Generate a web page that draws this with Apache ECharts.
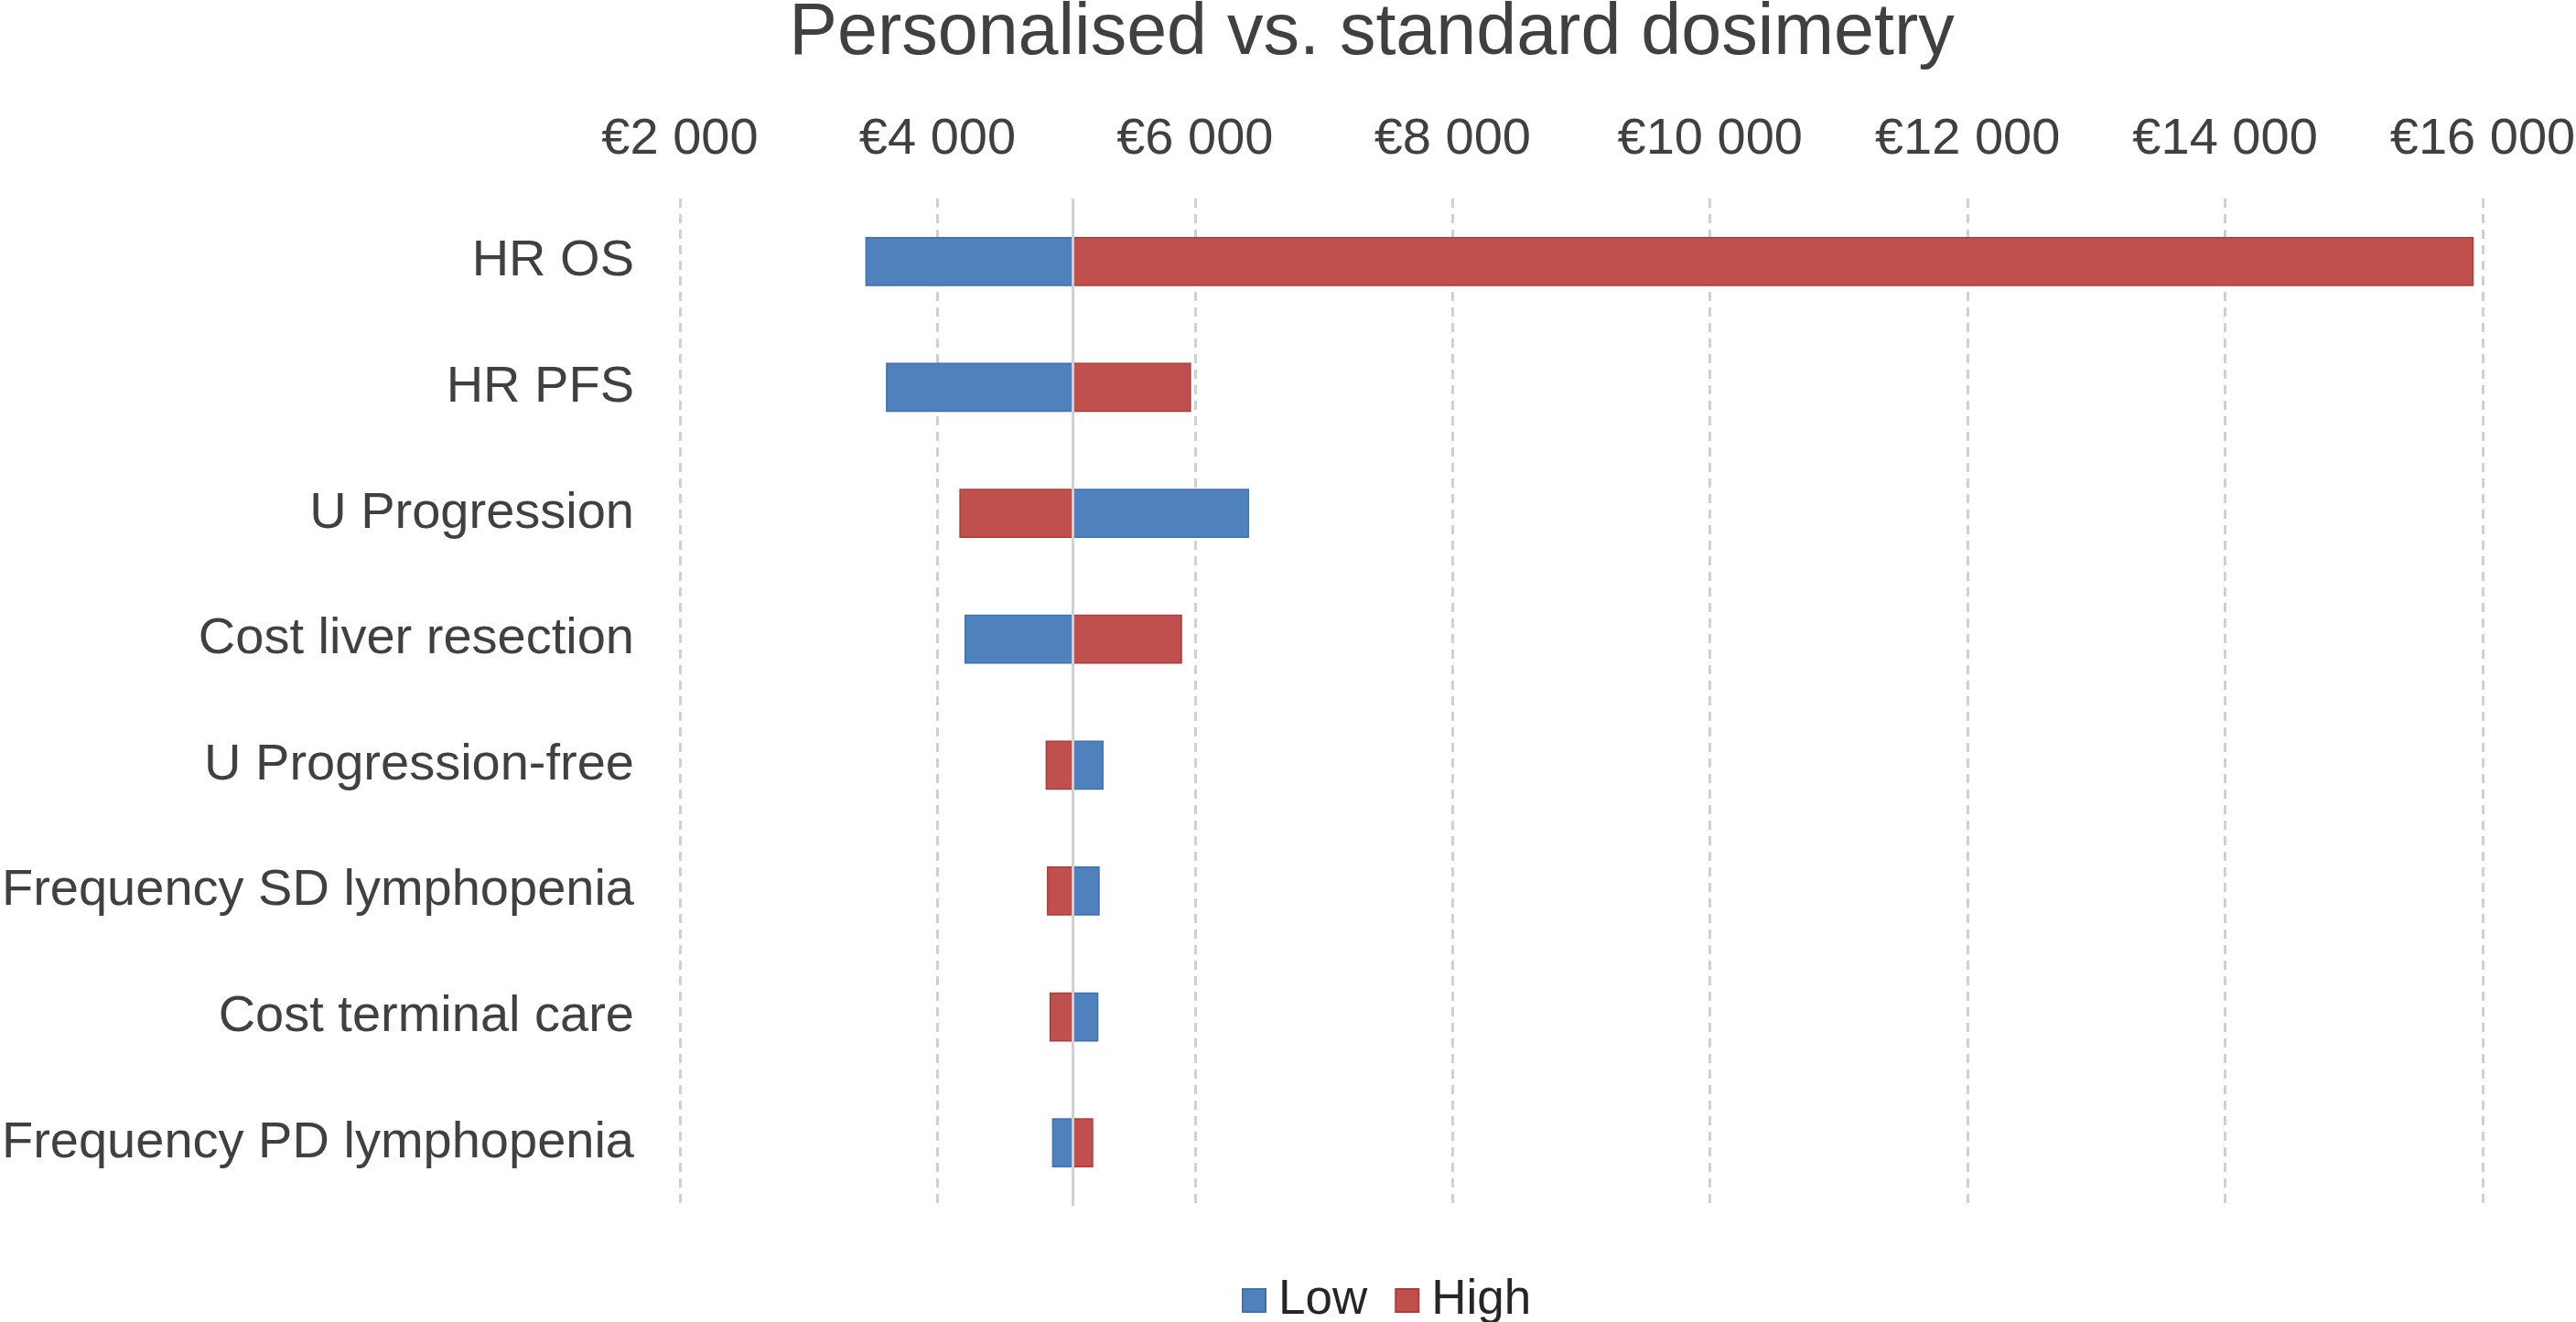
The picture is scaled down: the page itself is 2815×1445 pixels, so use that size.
<!DOCTYPE html>
<html>
<head>
<meta charset="utf-8">
<script src="https://cdn.jsdelivr.net/npm/echarts@6/dist/echarts.min.js"></script>
<style>
html,body{margin:0;padding:0;background:#fff;}
#chart{width:2815px;height:1445px;}
</style>
</head>
<body>
<div id="chart"></div>
<script>
const categories = ['HR OS','HR PFS','U Progression','Cost liver resection','U Progression-free','Frequency SD lymphopenia','Cost terminal care','Frequency PD lymphopenia'];
const baseValue = 5050;
const lowValues  = [3440, 3600, 6420, 4210, 5290, 5260, 5250, 4890];
const highValues = [15930, 5970, 4170, 5900, 4840, 4850, 4870, 5210];
const xTicks = [2000, 4000, 6000, 8000, 10000, 12000, 14000, 16000];

const FONT = '"Liberation Sans", Arial, sans-serif';
const BLUE = '#4F81BD', RED = '#C0504D';

function fmt(v){ return '€' + String(v).replace(/\B(?=(\d{3})+(?!\d))/g, ' '); }

const lowOffset = lowValues.map(v => Math.min(v, baseValue));
const lowLen = lowValues.map(v => Math.abs(v - baseValue));
const highOffset = highValues.map(v => Math.min(v, baseValue));
const highLen = highValues.map(v => Math.abs(v - baseValue));

const chart = echarts.init(document.getElementById('chart'));
chart.setOption({
  animation: false,
  backgroundColor: '#fff',
  textStyle: { fontFamily: FONT },
  title: {
    text: 'Personalised vs. standard dosimetry',
    left: 1499, textAlign: 'center', top: -2, padding: 0,
    textStyle: { fontSize: 79, fontWeight: 'normal', color: '#404040', fontFamily: FONT }
  },
  legend: {
    data: ['Low', 'High'],
    left: 1352, top: 1390,
    itemWidth: 25, itemHeight: 25, itemGap: 30,
    icon: 'rect',
    textStyle: { fontSize: 53, color: '#262626', fontFamily: FONT, padding: [0,0,0,9] }
  },
  grid: { left: 743, right: 102, top: 217, bottom: 127, containLabel: false, outerBoundsMode: 'none' },
  xAxis: {
    type: 'value', position: 'top',
    min: xTicks[0], max: xTicks[xTicks.length-1], interval: xTicks[1]-xTicks[0],
    axisLine: { show: false }, axisTick: { show: false },
    axisLabel: { formatter: fmt, fontSize: 56, color: '#404040', margin: 36, fontFamily: FONT },
    splitLine: { show: true, lineStyle: { type: [10, 7], color: '#d0d0d0', width: 3 } }
  },
  yAxis: {
    type: 'category', data: categories, inverse: true,
    axisLine: { show: false }, axisTick: { show: false },
    axisLabel: { fontSize: 56, color: '#404040', margin: 50, fontFamily: FONT },
    splitLine: { show: false }
  },
  series: [
    { name: 'lowOffset', type: 'bar', stack: 'low', data: lowOffset, barWidth: '39%', barGap: '-100%',
      itemStyle: { color: 'transparent' }, silent: true },
    { name: 'Low', type: 'bar', stack: 'low', data: lowLen, barWidth: '39%', barGap: '-100%',
      itemStyle: { color: BLUE, borderColor: '#3f70b0', borderWidth: 1.5 } },
    { name: 'highOffset', type: 'bar', stack: 'high', data: highOffset, barWidth: '39%', barGap: '-100%',
      itemStyle: { color: 'transparent' }, silent: true },
    { name: 'High', type: 'bar', stack: 'high', data: highLen, barWidth: '39%', barGap: '-100%',
      itemStyle: { color: RED, borderColor: '#b03c39', borderWidth: 1.5 },
      markLine: {
        silent: true, symbol: 'none', z: 10,
        label: { show: false },
        lineStyle: { type: 'solid', color: '#d0d0d0', width: 3 },
        data: [{ xAxis: baseValue }]
      }
    }
  ]
});
</script>
</body>
</html>
